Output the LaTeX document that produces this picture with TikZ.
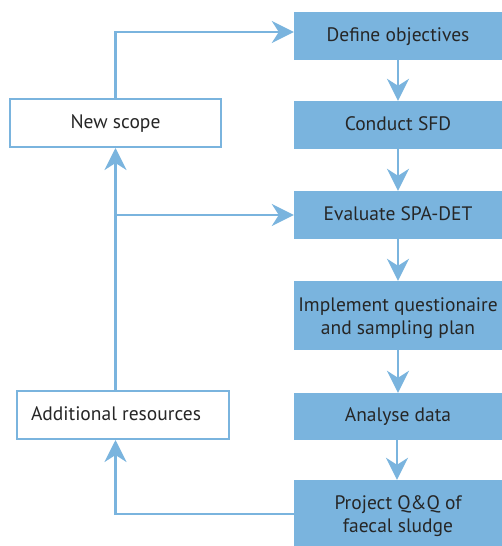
\documentclass[tikz,border=0pt]{standalone}
\usepackage{fontspec}
\setmainfont{PT Sans}
\usetikzlibrary{arrows.meta}
\definecolor{fblue}{RGB}{122,180,222}
\definecolor{lblue}{RGB}{122,180,222}
\definecolor{tgray}{RGB}{38,38,38}
\begin{document}
\begin{tikzpicture}[x=1pt,y=1pt,
  stepbox/.style={fill=fblue, minimum width=208pt, inner sep=0pt, text=tgray,
    font=\fontsize{19.5}{23}\selectfont, align=center},
  oneline/.style={text height=15.5pt, text depth=4.5pt},
  sidebox/.style={draw=lblue, line width=2pt, fill=white, inner sep=0pt,
    minimum height=48pt, text=tgray, font=\fontsize{19.5}{23}\selectfont,
    text height=15pt, text depth=4.5pt},
  conn/.style={draw=lblue, line width=2.5pt,
    -{Stealth[length=22pt,width=22pt,inset=7pt]}}]
\useasboundingbox (0,0) rectangle (502,546);
\clip (0,0) rectangle (502,546);
% process steps (right column)
\node[stepbox, oneline, minimum height=48pt] (def) at (398,510) {Define objectives};
\node[stepbox, oneline, minimum height=48pt] (sfd) at (398,421) {Conduct SFD};
\node[stepbox, oneline, minimum height=48pt] (ev)  at (398,331) {Evaluate SPA-DET};
\node[stepbox, minimum height=69pt] (imp) at (398,230.5) {\rule{0pt}{19pt}Implement questionaire\\and sampling plan};
\node[stepbox, oneline, minimum height=47pt] (an)  at (398,129.5) {Analyse data};
\node[stepbox, minimum height=68pt] (pr)  at (398,32) {\rule{0pt}{19pt}Project Q\&Q of\\faecal sludge};
% side boxes
\node[sidebox, minimum width=211pt] (ns) at (115.5,423) {New scope};
\node[sidebox, minimum width=212pt] (ar) at (123,131) {\hspace*{-14pt}Additional resources};
% main flow
\draw[conn] (def.south) -- (sfd.north);
\draw[conn] (sfd.south) -- (ev.north);
\draw[conn] (ev.south) -- (imp.north);
\draw[conn] (imp.south) -- (an.north);
\draw[conn] ([xshift=-1pt]an.south) -- ([xshift=-1pt]pr.north);
% feedback loops
\coordinate (top) at ([yshift=4pt]def.west);
\draw[conn] (ns.north) |- (top);
\draw[conn] (ns.south |- ar.north) -- (ns.south);
\draw[conn] (ns.south |- ev.west) -- (ev.west);
\draw[conn] (pr.west) -| (ns.south |- ar.south);
\end{tikzpicture}
\end{document}
